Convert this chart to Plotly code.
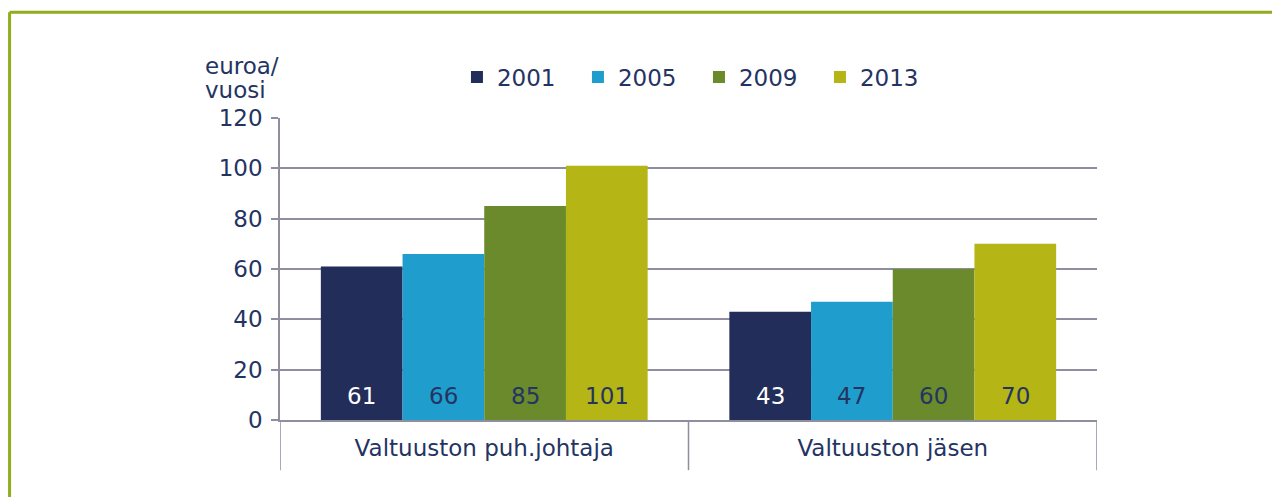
import plotly.graph_objects as go

categories = ["Valtuuston puh.johtaja", "Valtuuston jäsen"]
years = ["2001", "2005", "2009", "2013"]
values = {
    "2001": [61, 43],
    "2005": [66, 47],
    "2009": [85, 60],
    "2013": [101, 70],
}
colors = {"2001": "#222d5a", "2005": "#1f9ecd", "2009": "#6a8a2c", "2013": "#b5b515"}
label_colors = {"2001": "#ffffff", "2005": "#243462", "2009": "#243462", "2013": "#243462"}
y_ticks = [0, 20, 40, 60, 80, 100, 120]

TXT = "#243462"
GRID = "#8e8e9e"
FONT = "DejaVu Sans"
FS = 23

fig = go.Figure()
n = len(years)
bar_w = 0.8 / n
for j, yr in enumerate(years):
    fig.add_trace(go.Bar(
        name=yr, x=categories, y=values[yr],
        marker=dict(color=colors[yr], line=dict(width=0)),
    ))
    # value labels near the base of each bar
    for i, v in enumerate(values[yr]):
        fig.add_annotation(x=i + (j - (n - 1) / 2) * bar_w, y=0, xref="x", yref="y",
                           text=str(v), showarrow=False, yanchor="middle", yshift=24,
                           font=dict(family=FONT, size=FS, color=label_colors[yr]))

# category divider lines below the axis
for xv in [-0.5, 0.5, 1.5]:
    fig.add_shape(type="line", xref="x", yref="paper", x0=xv, x1=xv, y0=0, y1=-0.166,
                  line=dict(color=GRID, width=1.5))

# outer green frame (left and top edges visible)
FRAME = "#8fad1f"
fig.add_shape(type="line", xref="paper", yref="paper",
              x0=-0.331, x1=-0.331, y0=-0.6, y1=1.350,
              line=dict(color=FRAME, width=3), layer="below")
fig.add_shape(type="line", xref="paper", yref="paper",
              x0=-0.331, x1=1.5, y0=1.350, y1=1.350,
              line=dict(color=FRAME, width=3), layer="below")

fig.add_annotation(text="euroa/", xref="paper", yref="paper",
                   x=-0.094, y=1.172, xanchor="left", yanchor="middle", showarrow=False,
                   font=dict(family=FONT, size=FS, color=TXT))
fig.add_annotation(text="vuosi", xref="paper", yref="paper",
                   x=-0.094, y=1.093, xanchor="left", yanchor="middle", showarrow=False,
                   font=dict(family=FONT, size=FS, color=TXT))

fig.update_layout(
    width=1280, height=497,
    margin=dict(l=272, r=191, t=110, b=85),
    paper_bgcolor="white", plot_bgcolor="white",
    font=dict(family=FONT, size=FS, color=TXT),
    barmode="group", bargap=0.2, bargroupgap=0,
    showlegend=True,
    legend=dict(orientation="h", x=0.2166, y=1.136, xanchor="left", yanchor="middle",
                font=dict(family=FONT, size=FS, color=TXT), entrywidth=76,
                itemwidth=30, traceorder="normal"),
)
fig.update_xaxes(range=[-0.5, 1.5], showline=True, linecolor=GRID, linewidth=1.5,
                 ticks="", ticklabelstandoff=7, showgrid=False,
                 tickfont=dict(family=FONT, size=FS, color=TXT))
fig.update_yaxes(range=[0, 120], tickvals=y_ticks, showline=True, linecolor=GRID, linewidth=1.5,
                 ticks="outside", ticklen=7, tickcolor=GRID, tickwidth=1.5,
                 showgrid=True, gridcolor=GRID, gridwidth=1.5, zeroline=False,
                 ticklabelstandoff=4,
                 tickfont=dict(family=FONT, size=FS, color=TXT))

fig.write_html("out.html")
